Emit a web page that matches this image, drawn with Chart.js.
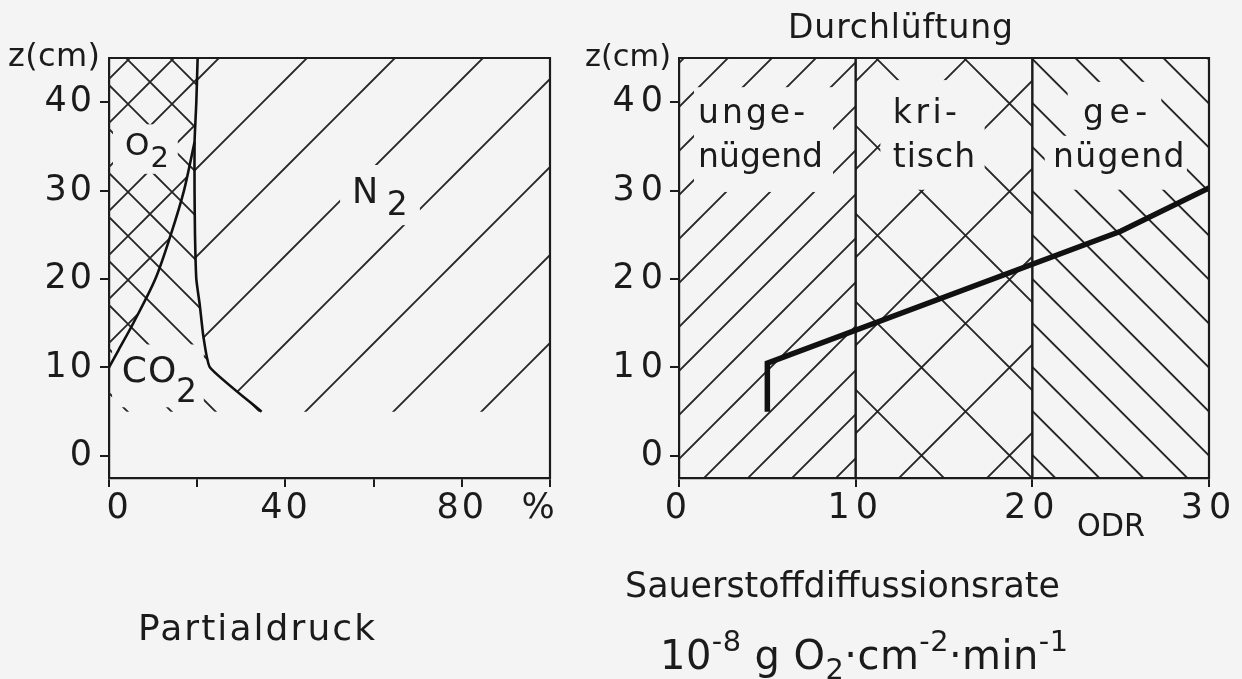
<!DOCTYPE html>
<html>
<head>
<meta charset="utf-8">
<script src="https://cdn.jsdelivr.net/npm/chart.js@4.4.1/dist/chart.umd.min.js"></script>
<style>
  html, body { margin:0; padding:0; width:1242px; height:679px; overflow:hidden; background:#f4f4f4; }
  canvas { position:absolute; left:0; top:0; }
  .t { position:absolute; font-family:"DejaVu Sans", sans-serif; color:#1b1b1b; white-space:nowrap; line-height:1; transform-origin:0 0; }
  .sup { font-size:0.72em; position:relative; top:-0.62em; line-height:0; }
  .sub { font-size:0.72em; position:relative; top:0.34em; line-height:0; }
</style>
</head>
<body>
<canvas id="cLeft" width="1242" height="679"></canvas>
<canvas id="cRight" width="1242" height="679"></canvas>

<div class="t" data-l="8" data-b="66" data-fs="32" data-w="92">z(cm)</div>
<div class="t" data-l="585" data-b="66" data-fs="31" data-w="86">z(cm)</div>
<div class="t" data-l="788" data-b="38" data-fs="33" data-w="225">Durchlüftung</div>
<div class="t" data-l="138" data-b="640" data-fs="36" data-w="237">Partialdruck</div>
<div class="t" data-l="1077" data-b="536" data-fs="32" data-w="68">ODR</div>
<div class="t" data-l="625" data-b="597" data-fs="36" data-w="435">Sauerstoffdiffussionsrate</div>
<div class="t" data-l="660" data-b="669" data-fs="40" data-w="408">10<span class="sup">-8</span> g O<span class="sub">2</span>·cm<span class="sup">-2</span>·min<span class="sup">-1</span></div>

<script>
// ================= DATA =================
// Left panel: soil air, partial pressure (%) against depth z (cm)
const o2Depth   = [10, 12, 15, 20, 25, 30, 35.5];
const o2Edge    = [0, 2.2, 5.5, 10.5, 14, 17, 19.4];                 // O2 | CO2 boundary (%)
const gasDepth  = [45, 40, 35.5, 30, 25, 20, 17, 13.5, 10, 5];
const o2co2Edge = [20.1, 19.8, 19.4, 19.4, 19.5, 19.8, 20.6, 21.4, 22.9, 34.6]; // CO2 | N2 boundary (%)
const leftXTickValues = [0, 20, 40, 60, 80, 100];
const leftXTickLabels = ['\u20020', '', '40', '', '80', '%\u2002'];
const zTickValues = [0, 10, 20, 30, 40];
const zTickLabels = ['0', '10', '20', '30', '40'];

// Right panel: oxygen diffusion rate (ODR) against depth z (cm)
const odrBandEdges = [0, 10, 20, 30];
const odrBandNames = [['unge-', 'nügend'], ['kri-', 'tisch'], ['ge-', 'nügend']];
const odrValues = [5, 5, 25, 30];
const odrDepth  = [5, 10.5, 25.4, 30.3];
const rightXTickValues = [0, 10, 20, 30];
const rightXTickLabels = ['0', '10', '20', '30'];

// axis ranges
const Z_MIN = -2.5, Z_MAX = 45, LX_MAX = 100, RX_MAX = 30;

// ================= STYLE =================
const INK = '#1b1b1b', PAPER = '#f4f4f4', HATCH = '#262626';
const TICK_FONT = 35;
Chart.defaults.font.family = '"DejaVu Sans", sans-serif';

// outside text placement (baseline + width fit)
document.querySelectorAll('.t').forEach(el => {
  const fs = +el.dataset.fs;
  el.style.fontSize = fs + 'px';
  el.style.left = el.dataset.l + 'px';
  el.style.top = (+el.dataset.b - 0.846 * fs) + 'px';
  const w = el.getBoundingClientRect().width;
  const target = +el.dataset.w;
  const n = el.textContent.length;
  if (target >= w) el.style.letterSpacing = ((target - w) / Math.max(1, n - 1)) + 'px';
  else el.style.transform = 'scaleX(' + (target / w) + ')';
});

// hatch pattern: "/" lines where x+y = slash (mod size), "\" lines where x-y = back (mod size)
function hatch(size, slash, back) {
  const c = document.createElement('canvas');
  c.width = size; c.height = size;
  const g = c.getContext('2d');
  g.strokeStyle = HATCH; g.lineWidth = 1.9;
  g.beginPath();
  for (let k = -2; k <= 3; k++) {
    if (slash !== null) { const cc = slash + k * size; g.moveTo(-size, cc + size); g.lineTo(cc + size, -size); }
    if (back !== null)  { const cc = back + k * size;  g.moveTo(-size, -size - cc); g.lineTo(2 * size, 2 * size - cc); }
  }
  g.stroke();
  return g.createPattern(c, 'repeat');
}

const pts = (xs, zs) => xs.map((x, i) => ({ x, y: zs[i] }));
const region = (data, bg) => ({ data, showLine: true, fill: 'shape', backgroundColor: bg,
  borderColor: 'rgba(0,0,0,0)', borderWidth: 0, pointRadius: 0, tension: 0, order: 1 });
const curve = (data, w, tension) => ({ data, isCurve: true, showLine: true, fill: false,
  borderColor: '#111', borderWidth: w, pointRadius: 0, tension, order: 0,
  borderJoinStyle: 'miter', borderCapStyle: 'butt' });

const decor = {
  id: 'decor',
  beforeDraw(chart, args, o) { chart.ctx.letterSpacing = o.tickSpacing + 'px'; chart.$done = false; },
  beforeDatasetDraw(chart, args, o) {
    const ds = chart.data.datasets[args.index];
    if (!ds.isCurve || chart.$done) return;
    chart.$done = true;
    const { ctx, scales: { x, y } } = chart;
    ctx.save();
    ctx.fillStyle = PAPER;
    for (const b of o.boxes) {
      const x0 = x.getPixelForValue(b[0]), x1 = x.getPixelForValue(b[1]);
      const y0 = y.getPixelForValue(b[2]), y1 = y.getPixelForValue(b[3]);
      ctx.fillRect(Math.min(x0, x1), Math.min(y0, y1), Math.abs(x1 - x0), Math.abs(y1 - y0));
    }
    ctx.fillStyle = INK; ctx.textAlign = 'left'; ctx.textBaseline = 'alphabetic';
    for (const p of o.pieces) {
      ctx.font = p.size + 'px "DejaVu Sans"';
      ctx.letterSpacing = (p.ls || 0) + 'px';
      ctx.fillText(p.t, x.getPixelForValue(p.x), y.getPixelForValue(p.z));
    }
    ctx.restore();
  },
  afterDraw(chart) {
    const { ctx, chartArea: a } = chart;
    ctx.save();
    ctx.strokeStyle = INK; ctx.lineWidth = 2.2;
    ctx.beginPath();
    ctx.moveTo(a.left - 1, a.top); ctx.lineTo(a.right, a.top); ctx.lineTo(a.right, a.bottom + 1);
    ctx.stroke();
    ctx.restore();
  }
};

function scales(xMax, xVals, xLabels, padTickY) {
  const grid = { drawOnChartArea: false, drawTicks: true, tickLength: 9, color: INK, lineWidth: 2 };
  const border = { display: true, color: INK, width: 2.2 };
  return {
    x: { type: 'linear', min: 0, max: xMax, z: 1,
      afterFit(s) { s.height = 60; },
      afterBuildTicks(s) { s.ticks = xVals.map(v => ({ value: v })); },
      ticks: { autoSkip: false, maxRotation: 0, minRotation: 0, padding: 1, color: INK, font: { size: TICK_FONT },
        callback: (v, i) => xLabels[i] },
      grid, border },
    y: { type: 'linear', min: Z_MIN, max: Z_MAX, z: 1,
      afterFit(s) { s.width = 100; },
      afterBuildTicks(s) { s.ticks = zTickValues.map(v => ({ value: v })); },
      ticks: { padding: padTickY, color: INK, font: { size: TICK_FONT }, callback: (v, i) => zTickLabels[i] },
      grid, border }
  };
}

const common = { responsive: false, animation: false, devicePixelRatio: 1, events: [] };

// ---------- left chart ----------
const o2Pts = pts(o2Edge, o2Depth);
const sumPts = pts(o2co2Edge, gasDepth);
const topZ = o2Depth[o2Depth.length - 1];
const zBottom = gasDepth[gasDepth.length - 1], zTop = gasDepth[0];
const o2Poly  = [...o2Pts, ...sumPts.filter(p => p.y > topZ).reverse(), { x: 0, y: zTop }];
const co2Poly = [{ x: 0, y: zBottom }, ...o2Pts, ...sumPts.filter(p => p.y < topZ)];
const n2Poly  = [...sumPts, { x: LX_MAX, y: zBottom }, { x: LX_MAX, y: zTop }];

new Chart(document.getElementById('cLeft'), {
  type: 'scatter',
  data: { datasets: [
    region(n2Poly, hatch(88, 13, null)),
    region(co2Poly, hatch(44, null, 24)),
    region(o2Poly, hatch(44, 12, 24)),
    curve(sumPts, 2.6, 0.15),
    curve(o2Pts, 2.6, 0.3)
  ] },
  options: { ...common,
    layout: { padding: { left: 9, right: 692, top: 58, bottom: 141 } },
    scales: scales(LX_MAX, leftXTickValues, leftXTickLabels, 5),
    plugins: { legend: { display: false }, tooltip: { enabled: false },
      decor: { tickSpacing: 3,
        boxes: [[0.9, 15.6, 37.5, 31.9], [52.4, 70.5, 32.9, 26.1], [0.7, 21.5, 12.6, 5.5]],
        pieces: [
          { t: 'O', x: 3.6, z: 34.0, size: 31 }, { t: '2', x: 9.4, z: 32.7, size: 29 },
          { t: 'N', x: 55.1, z: 28.6, size: 35 }, { t: '2', x: 63.0, z: 27.25, size: 33 },
          { t: 'CO', x: 2.9, z: 8.4, size: 36, ls: 1 }, { t: '2', x: 15.2, z: 6.1, size: 33 }
        ] } } },
  plugins: [decor]
});

// ---------- right chart ----------
const bandFills = [hatch(44, 38, null), hatch(88, 57, 26), hatch(44, null, 5.4)];
const bandSets = odrBandEdges.slice(0, -1).map((x0, i) => {
  const x1 = odrBandEdges[i + 1];
  return { ...region([{ x: x0, y: Z_MIN }, { x: x1, y: Z_MIN }, { x: x1, y: Z_MAX }, { x: x0, y: Z_MAX }, { x: x0, y: Z_MIN }], bandFills[i]),
    borderColor: INK, borderWidth: 2 };
});
const nameLeft = [[1.08, 1.08], [12.1, 12.1], [22.87, 21.17]];
const namePieces = [];
odrBandNames.forEach((lines, i) => {
  namePieces.push({ t: lines[0], x: nameLeft[i][0], z: 37.7, size: 33, ls: [3, 3.5, 5.5][i] });
  namePieces.push({ t: lines[1], x: nameLeft[i][1], z: 32.65, size: 33, ls: [0, 1, 1.3][i] });
});

new Chart(document.getElementById('cRight'), {
  type: 'scatter',
  data: { datasets: [
    ...bandSets,
    curve(pts(odrValues, odrDepth), 5.5, 0)
  ] },
  options: { ...common,
    layout: { padding: { left: 579, right: 33, top: 58, bottom: 141 } },
    scales: scales(RX_MAX, rightXTickValues, rightXTickLabels, 1),
    plugins: { legend: { display: false }, tooltip: { enabled: false },
      decor: { tickSpacing: 6,
        boxes: [[0.85, 8.72, 41.7, 29.85], [11.4, 17.3, 42.5, 30.1], [22.0, 27.3, 42.3, 35.9], [20.7, 28.75, 36.2, 30.1]],
        pieces: namePieces } } },
  plugins: [decor]
});
</script>
</body>
</html>
